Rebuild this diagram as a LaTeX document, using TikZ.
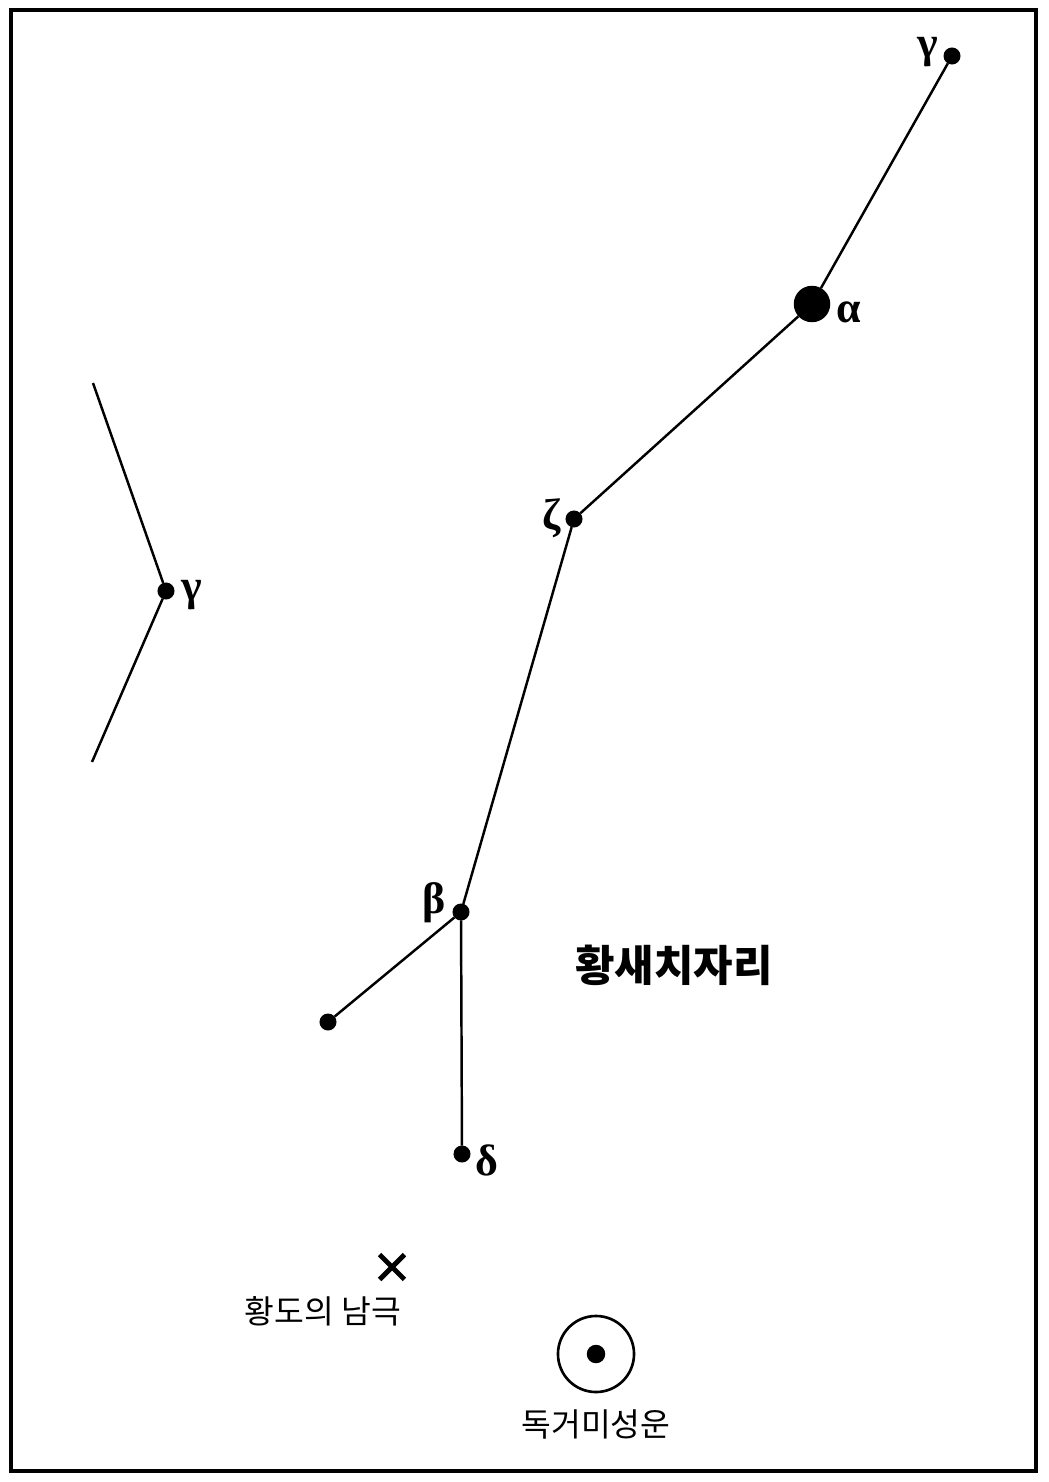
\documentclass[tikz,border=0pt]{standalone}
\usepackage{amsmath,amssymb}
\usepackage{fontspec}
\newfontfamily\kor{Noto Sans CJK KR}
\newfontfamily\grk{Liberation Serif}
\usetikzlibrary{calc,shapes.misc}

\begin{document}
\begin{tikzpicture}[x=0.01cm,y=-0.01cm,
    star/.style={draw,circle,inner sep=0pt,fill,minimum size=0.145cm},
    bigstar/.style={star,minimum size=0.34cm},
    greek/.style={font=\grk\bfseries\fontsize{12.5}{14}\selectfont},
    label/.style={font=\kor\fontsize{9.2}{11}\selectfont},
    line width=0.7pt]
    \useasboundingbox (0,0) rectangle (1049,1482);
    \draw[line width=1.15pt] (11,10) rectangle (1036,1471);

    % main chain
    \node[star] (g) at (952,56) {};
    \node[bigstar] (a) at (812,304) {};
    \node[star] (z) at (574,519) {};
    \node[star] (b) at (461,912) {};
    \node[star] (e) at (328,1022) {};
    \node[star] (d) at (462,1154) {};
    \draw (g) -- (a) -- (z) -- (b) -- (e);
    \draw (b) -- (d);

    % neighbour on the left
    \coordinate (u) at (93,383);
    \coordinate (w) at (92,762);
    \node[star] (lg) at (166,591) {};
    \draw (u) -- (lg) -- (w);

    \begin{scope}[every node/.style={greek}]
      \node (gl) at (928,52) {γ};
      \node (al) at (849,312) {α};
      \node (zl) at (552,518) {ζ};
      \node (bl) at (434,903) {β};
      \node (dl) at (487,1160) {δ};
      \node (lgl) at (192,595) {γ};
    \end{scope}

    \node[font=\kor\bfseries\fontsize{12.2}{14}\selectfont] (title) at (674,965) {황새치자리};

    % south ecliptic pole
    \node[draw,cross out,line width=1.4pt,minimum size=0.2cm,inner sep=0pt] (pole) at (392,1267) {};
    \node[label] (polel) at (323,1311) {황도의 남극};

    % nebula
    \node[draw,circle,minimum size=0.76cm,inner sep=0pt,line width=0.75pt] (neb) at (596,1354) {};
    \node[star,minimum size=0.16cm] (nebc) at (neb.center) {};
    \node[label] (nebl) at (596,1424) {독거미성운};
\end{tikzpicture}
\end{document}
